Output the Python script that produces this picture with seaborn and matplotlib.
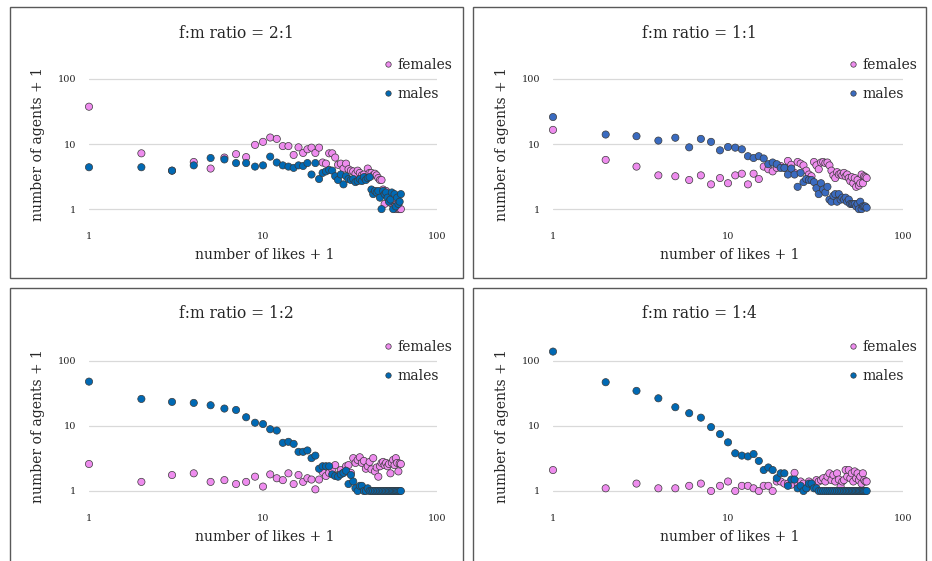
"""
    Scatter plots of likes vs. number of agents (log-log) for four
    female:male ratios, drawn as a 2x2 panel of boxed charts
"""

import matplotlib.pyplot as plt
from matplotlib.patches import Rectangle
import seaborn as sns
import numpy as np
import pandas as pd

# x axis: number of likes + 1
likes = np.arange(1, 63)

# f:m ratio = 2:1
females_2_1 = [37.5, 7.2, 3.9, 5.3, 4.2, 6.2, 7.0, 6.3, 9.7, 10.8,
               12.6, 12.0, 9.3, 9.3, 6.8, 8.9, 7.3, 8.3, 8.8, 7.3,
               8.8, 5.2, 5.0, 7.2, 7.2, 6.2, 4.8, 5.0, 4.2, 5.0,
               4.1, 3.9, 3.8, 3.5, 3.9, 3.6, 3.3, 3.4, 3.1, 4.2,
               3.6, 3.6, 3.3, 3.5, 3.3, 3.0, 2.8, 2.8, 2.0, 1.2,
               1.9, 1.6, 1.5, 1.7, 1.2, 1.3, 1.1, 1.0, 1.2, 1.0,
               1.0, 1.0]
males_2_1 = [4.4, 4.4, 3.9, 4.7, 6.1, 5.8, 5.1, 5.1, 4.5, 4.7,
             6.4, 5.2, 4.7, 4.5, 4.3, 4.7, 4.6, 5.1, 3.4, 5.1,
             2.9, 3.6, 3.8, 4.0, 3.9, 3.2, 2.8, 3.4, 2.4, 3.2,
             2.9, 2.8, 2.9, 2.6, 2.7, 2.9, 2.7, 3.1, 2.8, 3.0,
             3.1, 2.0, 1.7, 1.9, 1.8, 1.9, 1.5, 1.0, 1.9, 1.7,
             1.8, 1.5, 1.3, 1.4, 1.8, 1.0, 1.7, 1.1, 1.5, 1.2,
             1.3, 1.7]

# f:m ratio = 1:1
females_1_1 = [16.5, 5.7, 4.5, 3.3, 3.2, 2.8, 3.3, 2.4, 3.0, 2.5,
               3.3, 3.5, 2.4, 3.5, 2.9, 4.5, 4.1, 3.8, 4.3, 4.6,
               4.3, 5.5, 4.8, 3.6, 5.3, 5.0, 4.7, 3.9, 3.4, 3.2,
               5.3, 4.7, 4.1, 5.2, 5.3, 5.1, 5.2, 4.7, 3.9, 3.3,
               3.0, 3.7, 3.4, 3.5, 3.3, 3.6, 3.2, 3.4, 3.0, 2.7,
               3.1, 2.5, 3.0, 2.2, 2.8, 2.3, 2.5, 3.4, 2.5, 3.2,
               3.1, 3.0]
males_1_1 = [26, 14, 13.2, 11.3, 12.5, 8.9, 12, 10.8, 8.0, 9.0,
             8.8, 8.3, 6.5, 6.1, 6.5, 6.0, 4.9, 5.2, 4.9, 4.3,
             4.3, 3.4, 4.2, 3.4, 2.2, 3.6, 2.6, 2.9, 2.8, 2.8,
             2.6, 2.1, 1.7, 2.5, 2.0, 1.8, 2.2, 1.4, 1.3, 1.6,
             1.7, 1.3, 1.7, 1.4, 1.5, 1.4, 1.5, 1.3, 1.4, 1.2,
             1.2, 1.2, 1.2, 1.1, 1.2, 1.0, 1.3, 1.0, 1.1, 1.1,
             1.1, 1.05]

# f:m ratio = 1:2
females_1_2 = [2.6, 1.38, 1.76, 1.87, 1.38, 1.47, 1.28, 1.38, 1.66, 1.17,
               1.8, 1.57, 1.47, 1.87, 1.28, 1.76, 1.38, 1.57, 1.5, 1.06,
               1.5, 1.96, 1.7, 1.9, 2.15, 2.5, 1.76, 2.1, 1.9, 2.4,
               2.5, 1.9, 3.2, 2.7, 3.0, 3.3, 2.7, 2.9, 2.2, 2.4,
               2.8, 2.15, 3.2, 2.0, 2.3, 1.66, 2.4, 2.7, 2.8, 2.5,
               2.7, 2.4, 2.6, 1.87, 2.7, 3.0, 2.5, 3.2, 2.7, 2.0,
               2.65, 2.6]
males_1_2 = [48, 26, 23.4, 22.6, 20.8, 18.5, 17.6, 13.6, 11.2, 10.7,
             8.9, 8.5, 5.5, 5.7, 5.3, 4.0, 4.0, 4.2, 3.2, 3.5,
             2.2, 2.4, 2.4, 2.4, 1.8, 1.7, 1.66, 1.8, 1.9, 2.05,
             1.28, 1.76, 1.4, 1.1, 1.0, 1.2, 1.2, 1.0, 1.0, 1.1,
             1.0, 1.0, 1.0, 1.0, 1.0, 1.0, 1.0, 1.0, 1.0, 1.0,
             1.0, 1.0, 1.0, 1.0, 1.0, 1.0, 1.0, 1.0, 1.0, 1.0,
             1.0, 1.0]

# f:m ratio = 1:4
females_1_4 = [2.1, 1.1, 1.3, 1.1, 1.1, 1.2, 1.3, 1.0, 1.2, 1.4,
               1.0, 1.2, 1.2, 1.1, 1.0, 1.2, 1.2, 1.0, 1.4, 1.4,
               1.3, 1.3, 1.25, 1.9, 1.3, 1.4, 1.3, 1.1, 1.4, 1.25,
               1.3, 1.47, 1.4, 1.47, 1.57, 1.4, 1.66, 1.87, 1.47, 1.76,
               1.4, 1.87, 1.5, 1.17, 1.4, 1.47, 2.1, 1.66, 2.1, 1.57,
               1.87, 1.4, 2.0, 1.57, 1.87, 1.47, 1.66, 1.3, 1.87, 1.47,
               1.4, 1.4]
males_1_4 = [139, 47, 34.6, 26.6, 19.4, 15.7, 13.4, 9.6, 7.5, 5.6,
             3.8, 3.5, 3.4, 3.7, 2.9, 2.1, 2.3, 2.1, 1.57, 1.87,
             1.87, 1.2, 1.5, 1.5, 1.1, 1.2, 1.0, 1.1, 1.3, 1.3,
             1.1, 1.1, 1.0, 1.0, 1.0, 1.0, 1.0, 1.0, 1.0, 1.0,
             1.0, 1.0, 1.0, 1.0, 1.0, 1.0, 1.0, 1.0, 1.0, 1.0,
             1.0, 1.0, 1.0, 1.0, 1.0, 1.0, 1.0, 1.0, 1.0, 1.0,
             1.0, 1.0]

titles = ["f:m ratio = 2:1", "f:m ratio = 1:1", "f:m ratio = 1:2", "f:m ratio = 1:4"]
female_series = [females_2_1, females_1_1, females_1_2, females_1_4]
male_series = [males_2_1, males_1_1, males_1_2, males_1_4]
male_colors = ["#0069B4", "#3A6BC0", "#0069B4", "#0069B4"]
female_color = "#EE8CEE"
text_color = "#262626"

sns.set_theme(style="white")
plt.rcParams["font.family"] = ["DejaVu Serif"]

W, H = 932, 561
fig = plt.figure(figsize=(W / 100, H / 100), dpi=100)

# panel boxes and plot areas in pixels (left, top, right, bottom)
boxes = [(10, 7, 463, 278), (473, 7, 926, 278),
         (10, 288, 463, 580), (473, 288, 926, 580)]
areas = [(89, 59.4, 437, 215.4), (553, 59.4, 903, 215.4),
         (89, 341.3, 437, 497.3), (553, 341.3, 903, 497.3)]

for i in range(4):
    bx0, by0, bx1, by1 = boxes[i]
    fig.add_artist(Rectangle((bx0 / W, 1 - by1 / H), (bx1 - bx0) / W, (by1 - by0) / H,
                             transform=fig.transFigure, fill=False,
                             edgecolor="#595959", linewidth=1.0))
    fig.text((bx0 + bx1) / 2 / W, 1 - (by0 + 26) / H, titles[i],
             ha="center", va="center", fontsize=11.2, color=text_color)

    l, t, r, b = areas[i]
    ax = fig.add_axes([l / W, 1 - b / H, (r - l) / W, (b - t) / H])

    df = pd.DataFrame({
        "likes": np.concatenate([likes, likes]),
        "agents": np.concatenate([female_series[i], male_series[i]]),
        "sex": ["females"] * len(likes) + ["males"] * len(likes),
    })
    sns.scatterplot(data=df, x="likes", y="agents", hue="sex",
                    palette={"females": female_color, "males": male_colors[i]},
                    s=27, edgecolor="#3a3a3a", linewidth=0.5, ax=ax)
    for coll in ax.collections:
        coll.set_clip_on(False)

    ax.set_xscale("log")
    ax.set_yscale("log")
    ax.set_xlim(1, 100)
    ax.set_ylim(0.8, 200)
    ax.set_xticks([1, 10, 100])
    ax.set_xticklabels(["1", "10", "100"])
    ax.set_yticks([1, 10, 100])
    ax.set_yticklabels(["1", "10", "100"])
    ax.minorticks_off()
    ax.tick_params(axis="both", length=0, labelsize=7, colors=text_color)
    ax.tick_params(axis="x", pad=12)
    ax.tick_params(axis="y", pad=9)
    ax.grid(axis="y", color="#D9D9D9", linewidth=0.9)
    ax.set_axisbelow(True)
    for sp in ax.spines.values():
        sp.set_visible(False)
    ax.set_xlabel("")
    ax.set_ylabel("")
    ax.text(0.506, -0.254, "number of likes + 1", transform=ax.transAxes,
            ha="center", va="center", fontsize=10, color=text_color)
    ax.text(-0.147, 0.457, "number of agents + 1", transform=ax.transAxes,
            ha="center", va="center", rotation=90, fontsize=10, color=text_color)

    sns.move_legend(ax, loc="upper left", bbox_to_anchor=(0.818, 1.054),
                    frameon=False, title=None, fontsize=10, borderpad=0,
                    handlelength=1.0, handletextpad=0.2, labelspacing=1.1,
                    markerscale=0.75)
    for txt in ax.get_legend().get_texts():
        txt.set_color(text_color)

fig.savefig("out.png", dpi=100)
